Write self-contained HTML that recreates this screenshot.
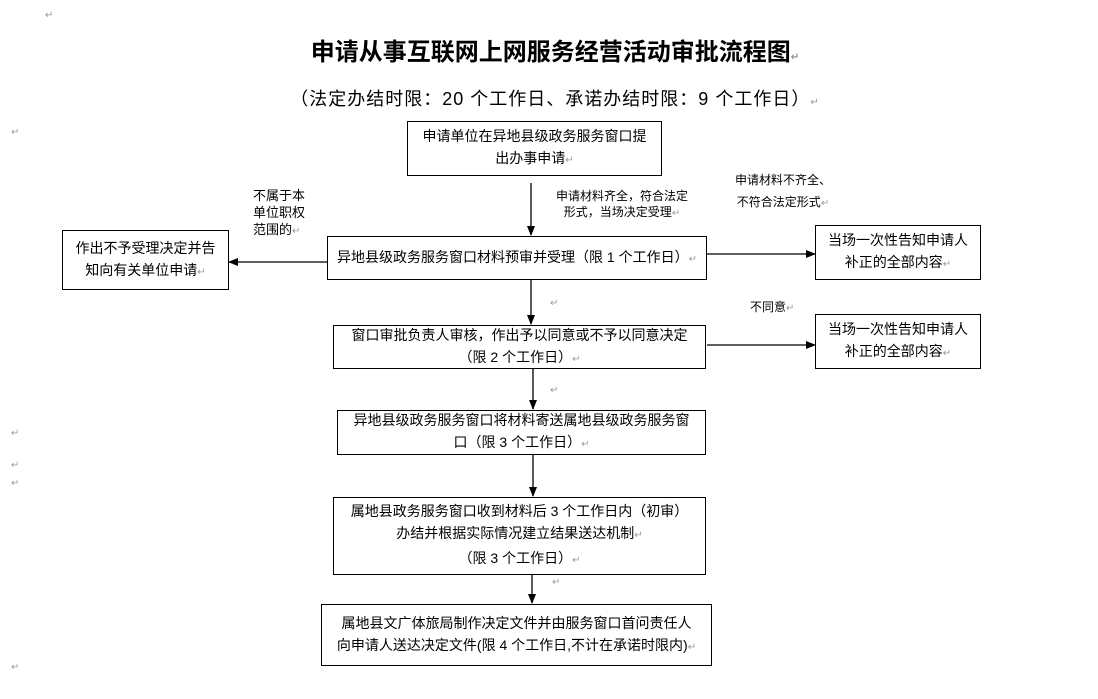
<!DOCTYPE html>
<html><head><meta charset="utf-8"><style>
body{margin:0;width:1098px;height:699px;background:#fff;position:relative;overflow:hidden;font-family:"Liberation Sans","Noto Sans CJK SC",sans-serif;color:#000}
.b{position:absolute;border:1px solid #000;box-sizing:border-box;display:flex;justify-content:center;align-items:center;text-align:center;font-size:14px;line-height:22px}
.t{position:absolute;white-space:nowrap}
.r{color:#999;font-size:10px}
svg{position:absolute;left:0;top:0}
</style></head><body>
<div class="t" style="left:0;width:1110px;text-align:center;top:32px;font-size:24px;font-weight:bold">申请从事互联网上网服务经营活动审批流程图<span class="r">↵</span></div>
<div class="t" style="left:0;width:1110px;text-align:center;top:85px;font-size:18px;letter-spacing:1px">（法定办结时限：20 个工作日、承诺办结时限：9 个工作日）<span class="r">↵</span></div>
<div class="t r" style="left:45px;top:10px">↵</div>
<div class="t r" style="left:11px;top:127px">↵</div>
<div class="t r" style="left:11px;top:428px">↵</div>
<div class="t r" style="left:11px;top:460px">↵</div>
<div class="t r" style="left:11px;top:478px">↵</div>
<div class="t r" style="left:11px;top:662px">↵</div>
<div class="b" style="left:407px;top:121px;width:255px;height:55px"><div>申请单位在异地县级政务服务窗口提<br>出办事申请<span class="r">↵</span></div></div>
<div class="b" style="left:327px;top:236px;width:380px;height:44px"><div>异地县级政务服务窗口材料预审并受理（限 1 个工作日）<span class="r">↵</span></div></div>
<div class="b" style="left:62px;top:230px;width:167px;height:60px"><div>作出不予受理决定并告<br>知向有关单位申请<span class="r">↵</span></div></div>
<div class="b" style="left:815px;top:225px;width:166px;height:55px"><div>当场一次性告知申请人<br>补正的全部内容<span class="r">↵</span></div></div>
<div class="b" style="left:815px;top:314px;width:166px;height:55px"><div>当场一次性告知申请人<br>补正的全部内容<span class="r">↵</span></div></div>
<div class="b" style="left:333px;top:325px;width:373px;height:44px"><div>窗口审批负责人审核，作出予以同意或不予以同意决定<br>（限 2 个工作日）<span class="r">↵</span></div></div>
<div class="b" style="left:337px;top:410px;width:369px;height:45px"><div>异地县级政务服务窗口将材料寄送属地县级政务服务窗<br>口（限 3 个工作日）<span class="r">↵</span></div></div>
<div class="b" style="left:333px;top:497px;width:373px;height:78px"><div>属地县政务服务窗口收到材料后 3 个工作日内（初审）<br>办结并根据实际情况建立结果送达机制<span class="r">↵</span><br>（限 3 个工作日）<span class="r">↵</span></div></div>
<div class="b" style="left:321px;top:604px;width:391px;height:62px"><div>属地县文广体旅局制作决定文件并由服务窗口首问责任人<br>向申请人送达决定文件(限 4 个工作日,不计在承诺时限内)<span class="r">↵</span></div></div>
<div class="t" style="left:253px;top:187px;font-size:13px;line-height:17px">不属于本<br>单位职权<br>范围的<span class="r">↵</span></div>
<div class="t" style="left:556px;top:188px;font-size:12px;line-height:16px;text-align:center">申请材料齐全，符合法定<br>形式，当场决定受理<span class="r">↵</span></div>
<div class="t" style="left:735px;top:169px;font-size:12px;line-height:22px;text-align:center">申请材料不齐全、<br>不符合法定形式<span class="r">↵</span></div>
<div class="t" style="left:750px;top:298px;font-size:12px">不同意<span class="r">↵</span></div>
<div class="t r" style="left:550px;top:298px">↵</div>
<div class="t r" style="left:550px;top:385px">↵</div>
<div class="t r" style="left:552px;top:577px">↵</div>
<svg width="1098" height="699">
<defs><marker id="a" markerWidth="10" markerHeight="8" refX="9" refY="4" orient="auto" markerUnits="userSpaceOnUse"><path d="M0,0L10,4L0,8z" fill="#000"/></marker></defs>
<g stroke="#000" stroke-width="1.3" marker-end="url(#a)">
<line x1="531" y1="183" x2="531" y2="235"/>
<line x1="531" y1="280" x2="531" y2="324"/>
<line x1="533" y1="369" x2="533" y2="409"/>
<line x1="533" y1="455" x2="533" y2="496"/>
<line x1="532" y1="575" x2="532" y2="603"/>
<line x1="327" y1="262" x2="229" y2="262"/>
<line x1="707" y1="254" x2="815" y2="254"/>
<line x1="707" y1="345" x2="815" y2="345"/>
</g>
</svg>
</body></html>
